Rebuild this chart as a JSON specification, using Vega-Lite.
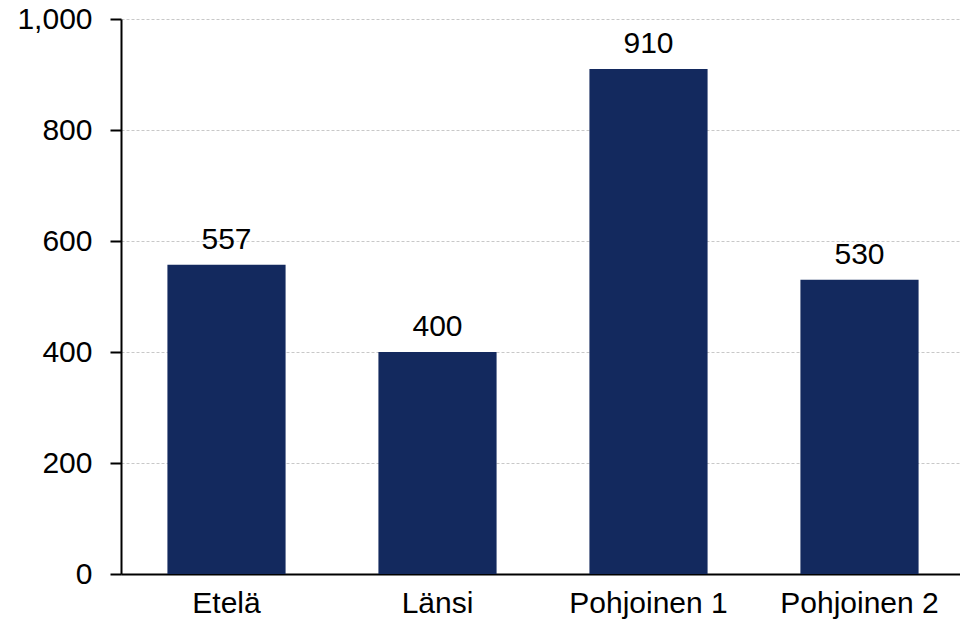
{
  "$schema": "https://vega.github.io/schema/vega-lite/v6.json",
  "autosize": "none",
  "width": 844,
  "height": 555,
  "padding": {"left": 121, "top": 19, "right": 0, "bottom": 49},
  "background": "white",
  "config": {
    "view": {"stroke": null},
    "font": "Liberation Sans"
  },
  "data": {
    "values": [
      {"region": "Etelä", "value": 557},
      {"region": "Länsi", "value": 400},
      {"region": "Pohjoinen 1", "value": 910},
      {"region": "Pohjoinen 2", "value": 530}
    ]
  },
  "encoding": {
    "x": {
      "field": "region",
      "type": "nominal",
      "sort": null,
      "scale": {"paddingInner": 0.44, "paddingOuter": 0.22},
      "axis": {
        "title": null,
        "labelAngle": 0,
        "labelFont": "Liberation Sans",
        "labelFontSize": 30,
        "labelColor": "black",
        "labelPadding": 14,
        "ticks": false,
        "domainColor": "black",
        "domainWidth": 2,
        "grid": false
      }
    },
    "y": {
      "field": "value",
      "type": "quantitative",
      "scale": {"domain": [0, 1000], "nice": false},
      "axis": {
        "title": null,
        "values": [0, 200, 400, 600, 800, 1000],
        "format": ",d",
        "labelFont": "Liberation Sans",
        "labelFontSize": 30,
        "labelColor": "black",
        "labelPadding": 18,
        "tickSize": 11,
        "tickColor": "black",
        "tickWidth": 2,
        "domainColor": "black",
        "domainWidth": 2,
        "grid": true,
        "gridColor": "#c8c8c8",
        "gridDash": [3, 2],
        "gridWidth": 1
      }
    }
  },
  "layer": [
    {"mark": {"type": "bar", "color": "#13295E"}},
    {
      "mark": {"type": "text", "baseline": "bottom", "dy": -10, "font": "Liberation Sans", "fontSize": 30, "color": "black"},
      "encoding": {"text": {"field": "value", "type": "quantitative"}}
    }
  ]
}
